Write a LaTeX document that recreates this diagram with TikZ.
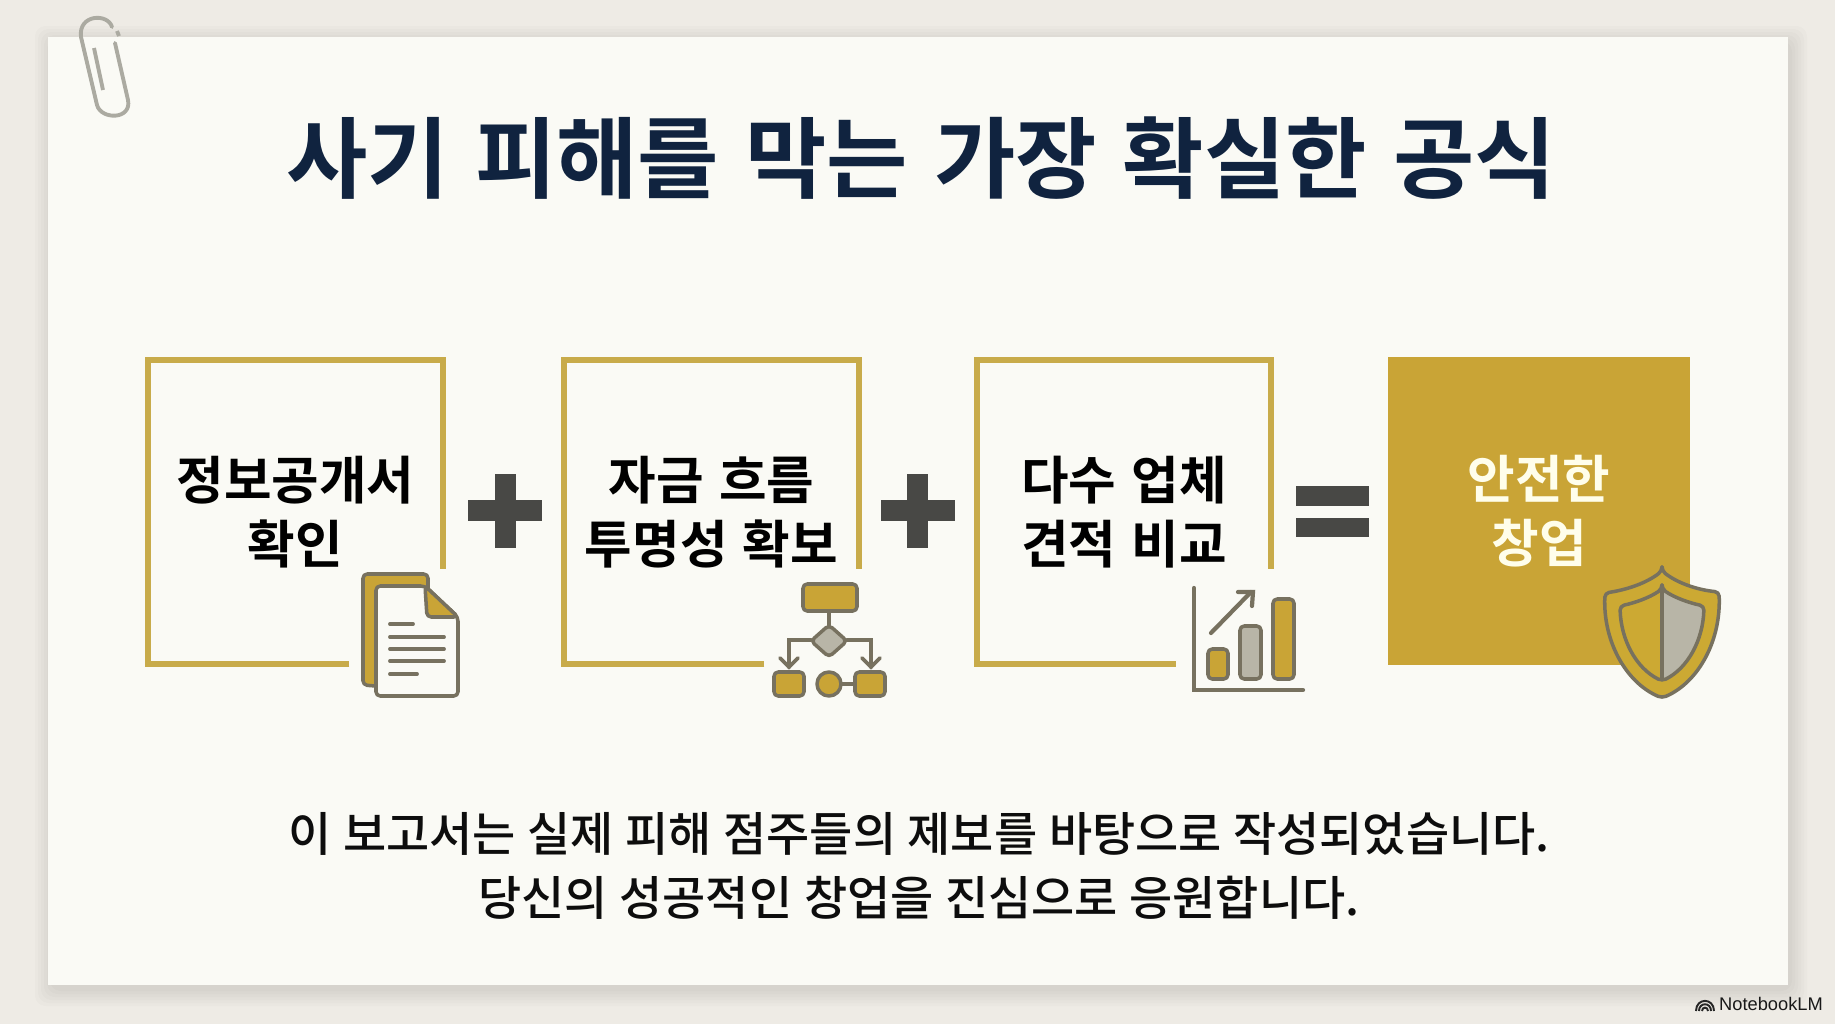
\documentclass[tikz,border=0pt]{standalone}
\usepackage{fontspec}
\usepackage{xcolor}
\setmainfont{Noto Sans CJK KR}
\newfontfamily\bodyfont[WordSpace=1.1]{Noto Sans CJK KR Medium}
\newfontfamily\headfont[WordSpace=1.3]{Noto Sans CJK KR Bold}
\newfontfamily\brandfont{Liberation Sans}
\usetikzlibrary{arrows.meta, positioning, calc}
\definecolor{deskbg}{HTML}{EEEBE5}
\definecolor{paperbg}{HTML}{FAFAF5}
\definecolor{goldfill}{HTML}{C9A436}
\definecolor{goldline}{HTML}{C8AB4A}
\definecolor{iconline}{HTML}{77715F}
\definecolor{icongray}{HTML}{B8B5A7}
\definecolor{navytext}{HTML}{10233F}
\definecolor{opgray}{HTML}{484845}
\definecolor{clipgray}{HTML}{ABAAA1}

\begin{document}
\begin{tikzpicture}[
    x=0.01cm,
    y=-0.01cm,
    card/.style={rectangle, minimum width=2.93cm, minimum height=3.03cm,
                 align=center, inner sep=0pt, font=\fontsize{14.7}{18.1}\selectfont\headfont},
    cardline/.style={line width=1.6pt, color=goldline},
    icon/.style={line width=1pt, draw=iconline, line join=round, rounded corners=1.2pt},
    bar/.style={line width=1.1pt, line cap=round, color=iconline},
    note/.style={align=center, inner sep=0pt,
                 font=\fontsize{13.35}{18.2}\selectfont\bodyfont, text=black!95},
]
\useasboundingbox (0,0) rectangle (1835,1024);
\fill[deskbg] (0,0) rectangle (1835,1024);
\foreach \r in {16,13,10,7,4,1}
    \fill[black, opacity=0.016, rounded corners=3pt]
        (48-\r+3,37-\r+5) rectangle (1788+\r+3,985+\r+5);
\fill[paperbg] (48,37) rectangle (1788,985);

\draw[clipgray, line width=1.1pt, line cap=round] (115,43) -- (128,100)
    .. controls (132,120) and (101,120) .. (97,105) -- (81,37)
    .. controls (78,14) and (108,13) .. (112,27);
\draw[clipgray, line width=1.1pt] (117,31) -- (119,36);
\draw[clipgray, line width=1.1pt] (94,48) -- (103,90);

\node[inner sep=0pt, text=navytext, font=\fontsize{25.15}{30}\selectfont\headfont]
    (title) at (921,158) {사기 피해를 막는 가장 확실한 공식};

\node[card] (pub)   at (295.5,512)  {정보공개서\\확인};
\node[card] (flow)  at (711.5,512)  {자금 흐름\\투명성 확보};
\node[card] (quote) at (1124,512)   {다수 업체\\견적 비교};
\node[card, minimum width=3.02cm, minimum height=3.08cm, fill=goldfill,
      text=white!92!yellow] (safe) at (1539,511) {안전한\\창업};

\foreach \card/\gapx in {pub/2.01, flow/2.00, quote/1.99}
    \draw[cardline] ([xshift=\gapx cm]\card.south west) -- (\card.south west)
        -- (\card.north west) -- (\card.north east) -- ([yshift=-2.09cm]\card.north east);

\foreach \px in {505,917.5} {
    \fill[opgray] ({\px-37},500) rectangle ({\px+37},521);
    \fill[opgray] ({\px-10.5},474) rectangle ({\px+10.5},548);
}
\fill[opgray] (1296,486) rectangle (1369,506);
\fill[opgray] (1296,518) rectangle (1369,537);

% document
\filldraw[icon, fill=goldfill] (425,690) -- (363,685) -- (363,574) -- (428,574) -- (428,600) -- cycle;
\filldraw[icon, fill=paperbg] (376,586) -- (425,586) -- (458,617) -- (458,696) -- (376,696) -- cycle;
\filldraw[icon, fill=goldfill] (425,586) -- (458,617) -- (427,617) -- cycle;
\foreach \ly/\lx in {624/413, 637/444, 649/444, 661/444, 674/417}
    \draw[bar] (390,\ly) -- (\lx,\ly);

% flowchart
\filldraw[icon, fill=goldfill] (803,584) rectangle (857,611);
\draw[bar] (829,611) -- (829,625);
\draw[bar] (811,640) -| (789,667);
\draw[bar] (847,640) -| (871,667);
\draw[bar] (780,658) -- (789,667) -- (798,658);
\draw[bar] (862,658) -- (871,667) -- (880,658);
\filldraw[icon, fill=icongray] (829,625) -- (847,641) -- (829,657) -- (811,641) -- cycle;
\filldraw[icon, fill=goldfill] (774,672) rectangle (804,696);
\draw[bar] (841,684) -- (856,684);
\filldraw[icon, fill=goldfill] (829,684) circle[radius=12];
\filldraw[icon, fill=goldfill] (855,672) rectangle (885,696);

% chart
\draw[bar, line width=1.2pt] (1194,588) -- (1194,690) -- (1303,690);
\filldraw[icon, fill=goldfill] (1208,649) rectangle (1228,679);
\filldraw[icon, fill=icongray] (1240,626) rectangle (1261,679);
\filldraw[icon, fill=goldfill] (1273,599) rectangle (1294,679);
\draw[bar, line width=1.2pt] (1211,633) -- (1251,592);
\draw[bar, line width=1.2pt] (1238,592) -- (1253,592) -- (1252,606);

% shield
\filldraw[icon, fill=goldfill!95!yellow] (1662,571) .. controls (1645,584) and (1625,590) .. (1605,593)
    .. controls (1603,640) and (1625,682) .. (1662,698)
    .. controls (1699,682) and (1721,640) .. (1719,592)
    .. controls (1699,590) and (1679,584) .. (1662,571) -- cycle;
\fill[icongray] (1662,589) .. controls (1675,598) and (1690,603) .. (1704,606)
    .. controls (1703,640) and (1688,668) .. (1662,681) -- cycle;
\draw[icon] (1662,589) .. controls (1649,598) and (1634,603) .. (1620,606)
    .. controls (1621,640) and (1636,668) .. (1662,681)
    .. controls (1688,668) and (1703,640) .. (1704,606)
    .. controls (1690,603) and (1675,598) .. (1662,589) -- cycle;
\draw[icon] (1662,589) -- (1662,681);

\node[note] (closing) at (919,866)
    {이 보고서는 실제 피해 점주들의 제보를 바탕으로 작성되었습니다.\\
     당신의 성공적인 창업을 진심으로 응원합니다.};

\foreach \r in {3,6,9}
    \draw[black!85, line width=0.55pt] (1705-\r,1011)
        .. controls (1705-\r,{1011-1.5*\r}) and (1705+\r,{1011-1.5*\r}) .. (1705+\r,1011);
\node[inner sep=0pt, font=\fontsize{5.2}{7}\selectfont\brandfont, text=black!90]
    (brand) at (1771,1004) {NotebookLM};
\end{tikzpicture}
\end{document}
